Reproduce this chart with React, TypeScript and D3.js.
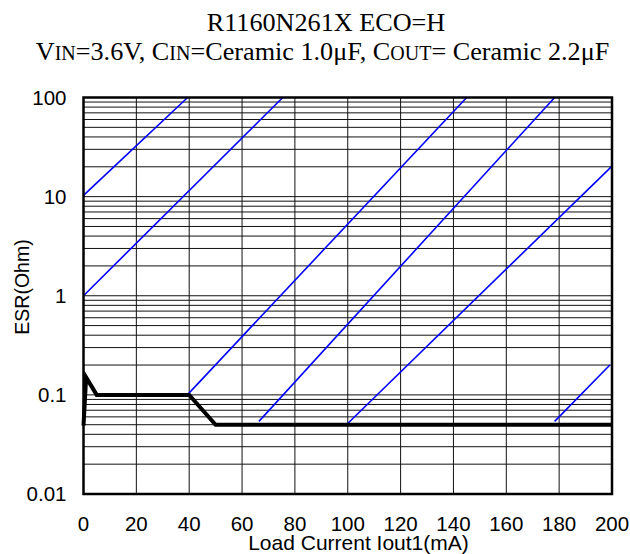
import React from "react";
import * as d3 from "d3";

const xTicks = [0, 20, 40, 60, 80, 100, 120, 140, 160, 180, 200];
const yTicks = [0.01, 0.1, 1, 10, 100];
const yTickLabels = ["0.01", "0.1", "1", "10", "100"];

// ESR boundary curve (thick black)
const curveX = [0, 1, 5, 40, 50, 200];
const curveY = [0.049, 0.15, 0.1, 0.1, 0.05, 0.05];

// Blue reference diagonals: start/end points
const diagX1 = [0, 0, 39.3, 66.4, 99.5, 178.3];
const diagY1 = [10.3, 1.0, 0.1, 0.054, 0.05, 0.054];
const diagX2 = [39.4, 75.4, 145, 178.3, 200, 199.2];
const diagY2 = [100, 100, 100, 100, 20.3, 0.2];

const W = 630;
const H = 554;
const L = 83.5;
const R = 612;
const T = 97.5;
const B = 494;

export default function App() {
  const x = d3.scaleLinear().domain([0, 200]).range([L, R]);
  const y = d3.scaleLog().domain([0.01, 100]).range([B, T]);

  const hGrid: number[] = [];
  for (let d = 0.01; d < 100; d *= 10) {
    for (let k = 1; k <= 9; k++) {
      const v = +(d * k).toPrecision(3);
      if (v > 0.01 && v < 100) hGrid.push(v);
    }
  }
  const vGrid = xTicks.filter((v) => v > 0 && v < 200);

  const line = d3
    .line<number>()
    .x((_, i) => x(curveX[i]))
    .y((_, i) => y(curveY[i]));

  const sans = "'Liberation Sans', Arial, sans-serif";
  const serif = "'Liberation Serif', 'Times New Roman', serif";

  return (
    <svg
      width={W}
      height={H}
      style={{ position: "absolute", left: 0, top: 0, background: "#fff" }}
    >
      <rect x={0} y={0} width={W} height={H} fill="#fff" />
      {/* title */}
      <text x={326} y={31} textAnchor="middle" fontFamily={serif} fontSize={26.2} fill="#000">
        R1160N261X ECO=H
      </text>
      <text x={322.5} y={60} textAnchor="middle" fontFamily={serif} fontSize={26.2} fill="#000">
        <tspan>V</tspan>
        <tspan fontSize={20}>IN</tspan>
        <tspan>=3.6V, C</tspan>
        <tspan fontSize={20}>IN</tspan>
        <tspan>=Ceramic 1.0μF, C</tspan>
        <tspan fontSize={20}>OUT</tspan>
        <tspan>= Ceramic 2.2μF</tspan>
      </text>

      {/* grid */}
      {hGrid.map((v, i) => (
        <line key={"h" + i} x1={L} x2={R} y1={y(v)} y2={y(v)} stroke="#111" strokeWidth={1} />
      ))}
      {vGrid.map((v, i) => (
        <line key={"v" + i} x1={x(v)} x2={x(v)} y1={T} y2={B} stroke="#111" strokeWidth={1} />
      ))}

      {/* blue diagonals */}
      {diagX1.map((_, i) => (
        <line
          key={"d" + i}
          x1={x(diagX1[i])}
          y1={y(diagY1[i])}
          x2={x(diagX2[i])}
          y2={y(diagY2[i])}
          stroke="#0000ff"
          strokeWidth={1.6}
        />
      ))}

      {/* frame */}
      <rect x={L} y={T} width={R - L} height={B - T} fill="none" stroke="#000" strokeWidth={2.5} />

      {/* ESR curve */}
      <path d={line(curveX) || ""} fill="none" stroke="#000" strokeWidth={4} strokeLinejoin="miter" />

      {/* x tick labels */}
      {xTicks.map((v, i) => (
        <text key={"xt" + i} x={x(v)} y={531} textAnchor="middle" fontFamily={sans} fontSize={20.5} fill="#000">
          {v}
        </text>
      ))}
      {/* y tick labels */}
      {yTicks.map((v, i) => (
        <text
          key={"yt" + i}
          x={66.5}
          y={y(v)}
          dy="0.36em"
          textAnchor="end"
          fontFamily={sans}
          fontSize={20.5}
          fill="#000"
        >
          {yTickLabels[i]}
        </text>
      ))}

      {/* axis titles */}
      <text x={358.5} y={550} textAnchor="middle" fontFamily={sans} fontSize={21} fill="#000">
        Load Current Iout1(mA)
      </text>
      <text
        transform={`translate(29,287) rotate(-90)`}
        textAnchor="middle"
        fontFamily={sans}
        fontSize={19.5}
        fill="#000"
      >
        ESR(Ohm)
      </text>
    </svg>
  );
}
